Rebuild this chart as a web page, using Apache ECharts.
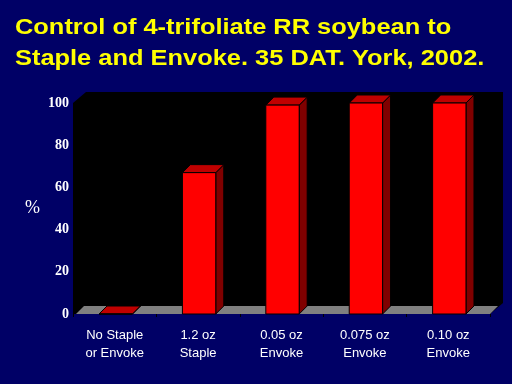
<!DOCTYPE html>
<html>
<head>
<meta charset="utf-8">
<script src="https://cdn.jsdelivr.net/npm/echarts@6/dist/echarts.min.js"></script>
<style>
html,body{margin:0;padding:0;background:#000066;}
#chart{width:512px;height:384px;}
</style>
</head>
<body>
<div id="chart"></div>
<script>
const titleLines = ['Control of 4-trifoliate RR soybean to', 'Staple and Envoke. 35 DAT. York, 2002.'];
const categories = ['No Staple\nor Envoke', '1.2 oz\nStaple', '0.05 oz\nEnvoke', '0.075 oz\nEnvoke', '0.10 oz\nEnvoke'];
const values = [0, 67, 99, 100, 100];
const yMin = 0, yMax = 100, yInterval = 20;
const yName = '%';

const chart = echarts.init(document.getElementById('chart'), null, {renderer: 'canvas'});

const BAR_DX = 8, BAR_DY = -8;
const WALL_DX = 13, WALL_DY = -11;

function renderWall(params, api) {
  const cs = params.coordSys;
  const x0 = cs.x, x1 = cs.x + cs.width;
  const y0 = api.coord([0, yMin])[1];
  const yT = api.coord([0, yMax])[1];
  return {
    type: 'group',
    children: [
      {type: 'polygon', shape: {points: [[x0, yT], [x0 + WALL_DX, yT + WALL_DY], [x1 + WALL_DX, yT + WALL_DY], [x1 + WALL_DX, y0 + WALL_DY], [x1, y0], [x0, y0]]}, style: {fill: '#000000'}},
      {type: 'polygon', shape: {points: [[x0 + 3, y0], [x1, y0], [x1 + BAR_DX, y0 + BAR_DY], [x0 + 3 + BAR_DX, y0 + BAR_DY]]}, style: {fill: '#808080'}}
    ]
  };
}

function renderBar(params, api) {
  const idx = api.value(0), v = api.value(1);
  const top = api.coord([idx, v]);
  const base = api.coord([idx, 0]);
  const band = api.size([1, 0])[0];
  const w = band * 0.4;
  const xl = top[0] - w / 2 + 1, xr = xl + w;
  const yt = top[1], yb = base[1];
  const st = {stroke: '#000000', lineWidth: 1};
  return {
    type: 'group',
    children: [
      {type: 'polygon', shape: {points: [[xr, yt], [xr + BAR_DX, yt + BAR_DY], [xr + BAR_DX, yb + BAR_DY], [xr, yb]]}, style: Object.assign({fill: '#800000'}, st)},
      {type: 'polygon', shape: {points: [[xl, yt], [xl + BAR_DX, yt + BAR_DY], [xr + BAR_DX, yt + BAR_DY], [xr, yt]]}, style: Object.assign({fill: '#C00000'}, st)},
      {type: 'rect', shape: {x: xl, y: yt, width: w, height: yb - yt}, style: Object.assign({fill: '#FF0000'}, st)}
    ]
  };
}

const option = {
  backgroundColor: '#000066',
  animation: false,
  grid: {left: 73, right: 22, top: 103, bottom: 70},
  graphic: titleLines.map((t, i) => ({
    type: 'text', x: 15, y: 27.5 + i * 31, scaleX: 1.155,
    style: {
      text: t, fill: '#FFFF00', font: 'bold 22px "Liberation Sans", Arial, sans-serif',
      verticalAlign: 'middle', textShadowColor: '#800000', textShadowOffsetX: 1, textShadowOffsetY: 1
    }
  })),
  xAxis: {
    type: 'category', data: categories,
    axisLine: {show: false},
    axisTick: {show: true, length: 3, lineStyle: {color: '#000000'}},
    axisLabel: {color: '#FFFFFF', fontSize: 13, fontFamily: '"Liberation Sans", Arial, sans-serif', lineHeight: 18, margin: 12}
  },
  yAxis: {
    type: 'value', min: yMin, max: yMax, interval: yInterval,
    name: yName, nameLocation: 'middle', nameGap: 33, nameRotate: 0,
    nameTextStyle: {color: '#FFFFFF', fontSize: 18, fontFamily: '"Liberation Serif", "Times New Roman", serif'},
    axisLine: {show: false}, axisTick: {show: false}, splitLine: {show: false},
    axisLabel: {color: '#FFFFFF', fontSize: 14, fontWeight: 'bold', fontFamily: '"Liberation Serif", "Times New Roman", serif', margin: 4, padding: [3, 0, 0, 0]}
  },
  series: [
    {type: 'custom', renderItem: renderWall, data: [[0, 0]], clip: false, z: 1, silent: true},
    {type: 'custom', renderItem: renderBar, data: values.map((v, i) => [i, v]), clip: false, z: 2}
  ]
};
chart.setOption(option);
</script>
</body>
</html>
